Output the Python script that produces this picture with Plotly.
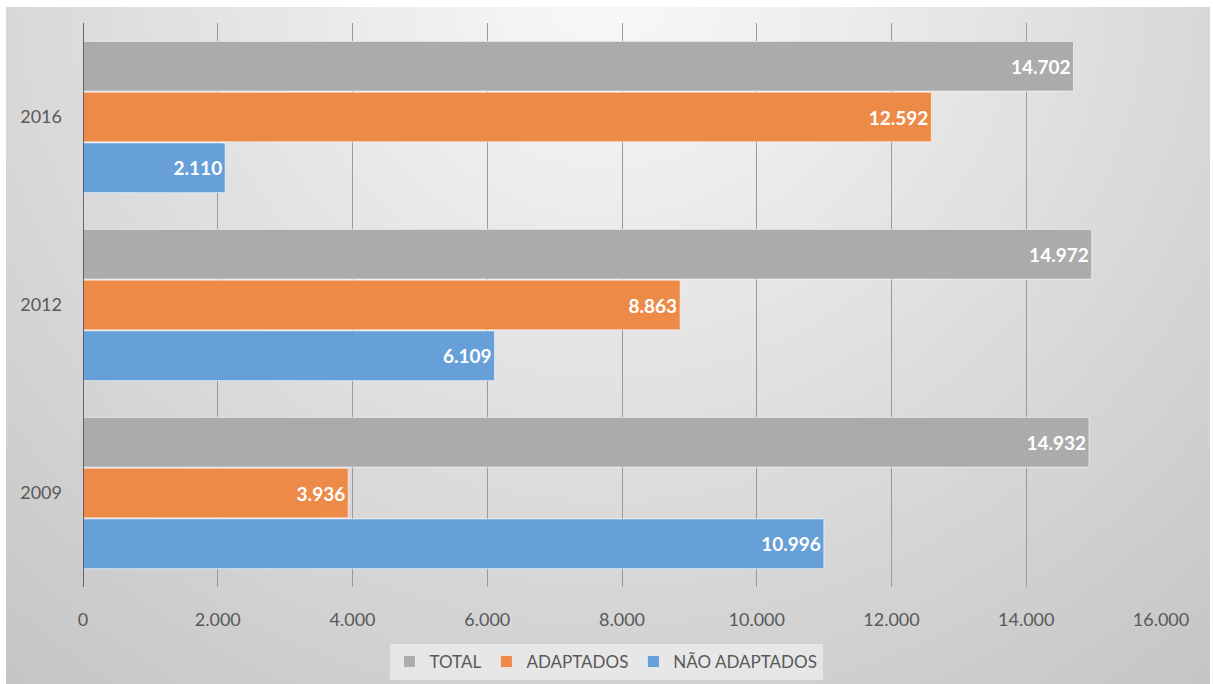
import base64, struct, zlib
import numpy as np
import plotly.graph_objects as go

years = ["2009", "2012", "2016"]
total = [14932, 14972, 14702]
adaptados = [3936, 8863, 12592]
nao_adaptados = [10996, 6109, 2110]
x_ticks = [0, 2000, 4000, 6000, 8000, 10000, 12000, 14000, 16000]

W, H = 1213, 684
L, R, T, B = 83, 52, 23, 97


def gradient_png(w, h):
    yy, xx = np.mgrid[0:h, 0:w]
    dx = (xx / (w - 1) - 0.5) / 0.75
    dy = (yy / (h - 1) + 0.05) / 1.3
    r = np.sqrt(dx ** 2 + dy ** 2)
    v = np.clip(250 - 50 * r, 190, 250).astype(np.uint8)
    raw = b"".join(b"\x00" + v[i].tobytes() for i in range(h))

    def chunk(tag, data):
        c = struct.pack(">I", len(data)) + tag + data
        return c + struct.pack(">I", zlib.crc32(tag + data) & 0xFFFFFFFF)

    png = b"\x89PNG\r\n\x1a\n"
    png += chunk(b"IHDR", struct.pack(">IIBBBBB", w, h, 8, 0, 0, 0, 0))
    png += chunk(b"IDAT", zlib.compress(raw, 9))
    png += chunk(b"IEND", b"")
    return "data:image/png;base64," + base64.b64encode(png).decode()


pw, ph = W - L - R, H - T - B
bg = gradient_png(300, 170)

fig = go.Figure()
series = [
    ("NÃO ADAPTADOS", nao_adaptados, "#67a0d8"),
    ("ADAPTADOS", adaptados, "#ee8a48"),
    ("TOTAL", total, "#ababab"),
]
for name, vals, col in series:
    fig.add_trace(go.Bar(
        y=years, x=vals, name=name, orientation="h",
        marker=dict(color=col, line=dict(color="rgba(255,255,255,0.6)", width=1)),
        texttemplate="%{x:,}", textposition="inside", insidetextanchor="end",
        textfont=dict(family="Lato", size=19, color="white", weight="bold"),
        textangle=0,
    ))

fig.update_layout(
    width=W, height=H,
    margin=dict(l=L, r=R, t=T, b=B, autoexpand=False),
    paper_bgcolor="white",
    plot_bgcolor="rgba(0,0,0,0)",
    separators=",.",
    barmode="group",
    bargap=0.19,
    bargroupgap=0.02,
    font=dict(family="Lato", size=18, color="#595959"),
    images=[dict(
        source=bg, xref="paper", yref="paper",
        x=(6 - L) / pw, y=(H - B - 7) / ph,
        sizex=(1210 - 6) / pw, sizey=(684 - 7) / ph,
        xanchor="left", yanchor="top", sizing="stretch", layer="below",
    )],
    xaxis=dict(
        range=[0, 16000], tickvals=x_ticks, tickformat=",d",
        showgrid=True, gridcolor="#9a9a9a", gridwidth=1,
        zeroline=False, showline=False, ticks="",
        ticklabelstandoff=20, automargin=False,
        tickfont=dict(size=18, color="#595959"),
    ),
    yaxis=dict(
        type="category", categoryorder="array", categoryarray=years,
        showgrid=False, showline=False, ticks="",
        ticklabelstandoff=20, automargin=False,
        tickfont=dict(size=18, color="#595959"),
    ),
    legend=dict(
        orientation="h", traceorder="reversed",
        x=(606 - L) / pw, xanchor="center",
        y=(H - B - 662) / ph, yanchor="middle",
        bgcolor="rgba(240,240,240,0.7)",
        font=dict(size=17, color="#595959"),
        itemwidth=30,
    ),
    shapes=[dict(type="line", xref="x", yref="paper", x0=0, x1=0, y0=0, y1=1,
                 line=dict(color="#404040", width=1.5), layer="above")],
)

fig.write_html(
    "out.html",
    config={"displayModeBar": False},
    post_script="document.body.style.margin='0';document.body.style.overflow='hidden';",
)
